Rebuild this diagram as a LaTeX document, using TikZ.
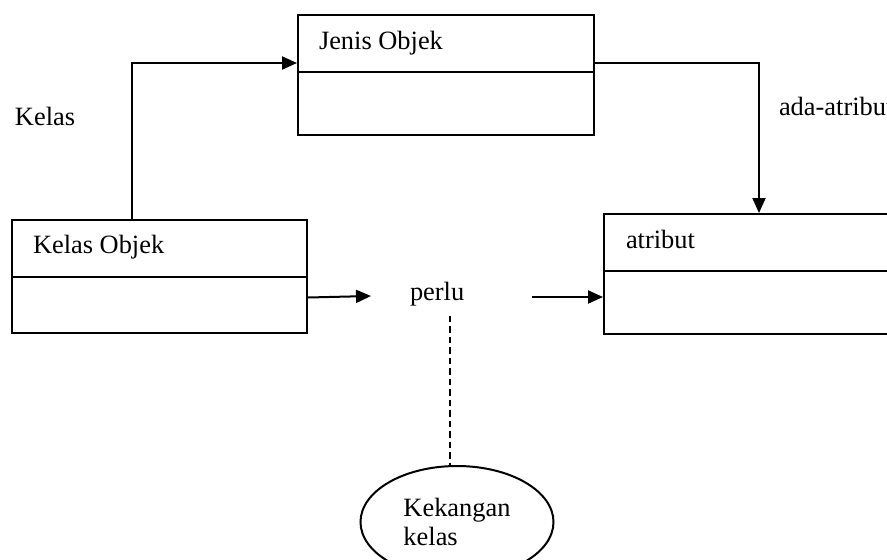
\documentclass[tikz,border=0pt]{standalone}
\usepackage{fontspec}
\setmainfont{Liberation Serif}
\usetikzlibrary{arrows.meta,shapes.geometric}

\begin{document}
\begin{tikzpicture}[x=1pt, y=-1pt, line width=2pt,
		font=\fontsize{26.4}{29}\selectfont,
		box/.style={rectangle, draw, inner sep=0pt, anchor=north west},
		lbl/.style={inner sep=0pt, anchor=base west},
		arr/.style={-{Triangle[length=15pt, width=13pt]}}]
			\useasboundingbox (0,0) rectangle (887,560);
			\clip (0,0) rectangle (887,560);
			\node[box, minimum width=296pt, minimum height=120pt]
				(jenis) at (297, 14) {};
			\node[box, minimum width=295pt, minimum height=113pt]
				(kelas) at (11, 219) {};
			\node[box, minimum width=320pt, minimum height=120pt]
				(atribut) at (603, 213) {};
			\draw (jenis.west |- 0,72) -- (jenis.east |- 0,72);
			\draw (kelas.west |- 0,277) -- (kelas.east |- 0,277);
			\draw (atribut.west |- 0,271) -- (atribut.east |- 0,271);
			\node[lbl] (jenisText) at (318, 49) {Jenis Objek};
			\node[lbl] (kelasText) at (32, 253) {Kelas Objek};
			\node[lbl] (atributText) at (625, 248) {atribut};
			\node[lbl] (kelasLbl) at (14, 125) {Kelas};
			\node[lbl] (adaLbl) at (778, 115) {ada-atribut};
			\node[lbl] (perlu) at (409, 300) {perlu};
			\node[ellipse, draw, inner sep=0pt, align=left,
				minimum width=193pt, minimum height=112pt]
				(kekangan) at (457, 522) {Kekangan\\kelas};
			\draw[arr] ([xshift=121pt]kelas.north west) |- ([yshift=12pt]jenis.west);
			\draw[arr] ([yshift=12pt]jenis.east) -| ([xshift=156pt]atribut.north west);
			\draw[arr] ([yshift=-21pt]kelas.east) -- ([xshift=-38pt]perlu.west |- 0,296);
			\draw[arr] ([xshift=67pt]perlu.east |- 0,297) -- (atribut.west |- 0,297);
			\draw[dashed, line width=1.5pt, dash pattern=on 6.5pt off 4pt]
				(perlu.south -| 450,0) ++(0,9) -- (kekangan.north -| 450,0);
		\end{tikzpicture}
\end{document}
